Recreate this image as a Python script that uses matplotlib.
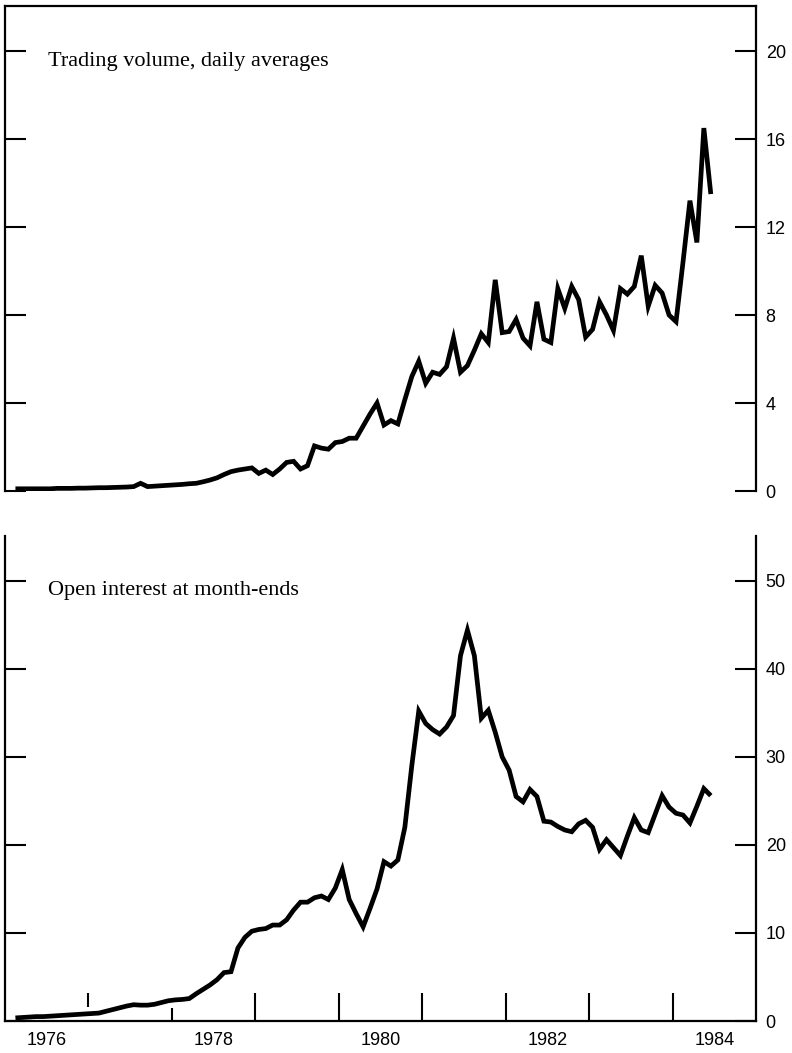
import matplotlib
matplotlib.use("Agg")
import matplotlib.pyplot as plt
import matplotlib.transforms as mtransforms
import numpy as np

# ---- data: monthly, Feb 1976 .. Jun 1984 (plotted mid-month) ----
start_year = 1976
start_month = 2  # February
volume = [0.10, 0.10, 0.10, 0.10, 0.10, 0.10, 0.12, 0.12, 0.12, 0.13, 0.13, 0.14,
          0.15, 0.15, 0.16, 0.17, 0.18, 0.20, 0.35, 0.20, 0.22, 0.24, 0.26, 0.28,
          0.30, 0.33, 0.35, 0.42, 0.50, 0.60, 0.75, 0.88, 0.95, 1.00, 1.05, 0.80,
          0.95, 0.75, 1.00, 1.30, 1.35, 1.00, 1.15, 2.05, 1.95, 1.90, 2.20, 2.25,
          2.40, 2.40, 2.95, 3.50, 4.00, 3.00, 3.20, 3.05, 4.15, 5.20, 5.90, 4.90,
          5.40, 5.30, 5.65, 6.95, 5.40, 5.70, 6.40, 7.15, 6.75, 9.60, 7.20, 7.25,
          7.80, 6.95, 6.60, 8.60, 6.90, 6.75, 9.20, 8.30, 9.30, 8.70, 7.00, 7.35,
          8.60, 8.00, 7.30, 9.20, 8.95, 9.30, 10.70, 8.40, 9.35, 9.00, 8.00, 7.70,
          10.40, 13.20, 11.30, 16.50, 13.50]
open_interest = [0.35, 0.40, 0.45, 0.50, 0.50, 0.55, 0.60, 0.65, 0.70, 0.75, 0.80, 0.85,
                 0.90, 1.10, 1.30, 1.50, 1.70, 1.85, 1.80, 1.80, 1.90, 2.10, 2.30, 2.40,
                 2.45, 2.55, 3.10, 3.60, 4.10, 4.70, 5.50, 5.60, 8.30, 9.50, 10.20, 10.40,
                 10.50, 10.90, 10.90, 11.50, 12.60, 13.50, 13.50, 14.00, 14.20, 13.80, 15.10, 17.20,
                 13.80, 12.20, 10.70, 12.80, 15.00, 18.10, 17.60, 18.30, 22.00, 29.00, 35.20, 33.80,
                 33.10, 32.60, 33.40, 34.70, 41.50, 44.40, 41.50, 34.40, 35.30, 32.80, 30.00, 28.50,
                 25.50, 24.90, 26.30, 25.50, 22.70, 22.60, 22.10, 21.70, 21.50, 22.40, 22.80, 22.00,
                 19.50, 20.60, 19.70, 18.80, 21.00, 23.10, 21.70, 21.40, 23.50, 25.60, 24.30, 23.60,
                 23.40, 22.50, 24.40, 26.40, 25.60]

top_title = "Trading volume, daily averages"
bottom_title = "Open interest at month-ends"
top_yticks = [0, 4, 8, 12, 16, 20]
bottom_yticks = [0, 10, 20, 30, 40, 50]
year_labels = ["1976", "1978", "1980", "1982", "1984"]
year_tick_years = [1977, 1978, 1979, 1980, 1981, 1982, 1983, 1984]

# month positions in decimal years (mid-month)
n = len(volume)
t = np.array([start_year + (start_month - 1 + k + 0.5) / 12.0 for k in range(n)])

W, H = 792, 1053
fig = plt.figure(figsize=(W / 100, H / 100), dpi=100)

def fx(px):
    return px / W

def fy(py):
    return 1 - py / H

left_px, right_px = 5, 756
ax1 = fig.add_axes([fx(left_px), fy(491), fx(right_px - left_px), (491 - 6) / H])
ax2 = fig.add_axes([fx(left_px), fy(1021), fx(right_px - left_px), (1021 - 536) / H])

num_font = dict(family="Liberation Sans", size=13)
lw_spine = 1.6

for ax in (ax1, ax2):
    ax.set_xlim(1976, 1985)
    for s in ax.spines.values():
        s.set_linewidth(lw_spine)
    ax.yaxis.set_ticks_position("both")
    ax.tick_params(axis="y", which="major", direction="in", length=15, width=1.5,
                   left=True, right=True, labelleft=False, labelright=True, pad=7)

ax1.plot(t, volume, color="black", lw=3.4, solid_joinstyle="miter", solid_capstyle="butt")
ax2.plot(t, open_interest, color="black", lw=3.4, solid_joinstyle="miter", solid_capstyle="butt")

ax1.set_ylim(0, 22.05)
ax2.set_ylim(0, 55.1)
ax1.set_yticks(top_yticks)
ax2.set_yticks(bottom_yticks)
ax1.set_yticklabels([str(v) for v in top_yticks], fontdict=num_font)
ax2.set_yticklabels([str(v) for v in bottom_yticks], fontdict=num_font)

ax1.spines["bottom"].set_visible(False)
ax1.set_xticks([])
ax2.spines["top"].set_visible(False)

# x ticks (year boundaries) and year labels (mid-year)
ax2.set_xticks([y for y in year_tick_years if y >= 1979])
ax2.tick_params(axis="x", which="major", direction="in", length=20, width=1.5,
                labelbottom=False)
trans = mtransforms.blended_transform_factory(ax2.transData, ax2.transAxes)
ax2.vlines([1977], 0.029, 0.058, transform=trans, color="black", lw=1.5)
ax2.vlines([1978], 0.0, 0.027, transform=trans, color="black", lw=1.5)

ax2.set_xticks([int(y) + 0.5 for y in year_labels], minor=True)
ax2.set_xticklabels(year_labels, minor=True, fontdict=num_font)
ax2.tick_params(axis="x", which="minor", length=0, pad=8)

# panel titles
ax1.text((48 - left_px) / (right_px - left_px), (491 - 66) / 485, top_title,
         transform=ax1.transAxes, family="Liberation Serif", fontsize=16,
         va="baseline", ha="left")
ax2.text((48 - left_px) / (right_px - left_px), (1021 - 595) / 485, bottom_title,
         transform=ax2.transAxes, family="Liberation Serif", fontsize=16,
         va="baseline", ha="left")

fig.savefig("out.png", dpi=100)
